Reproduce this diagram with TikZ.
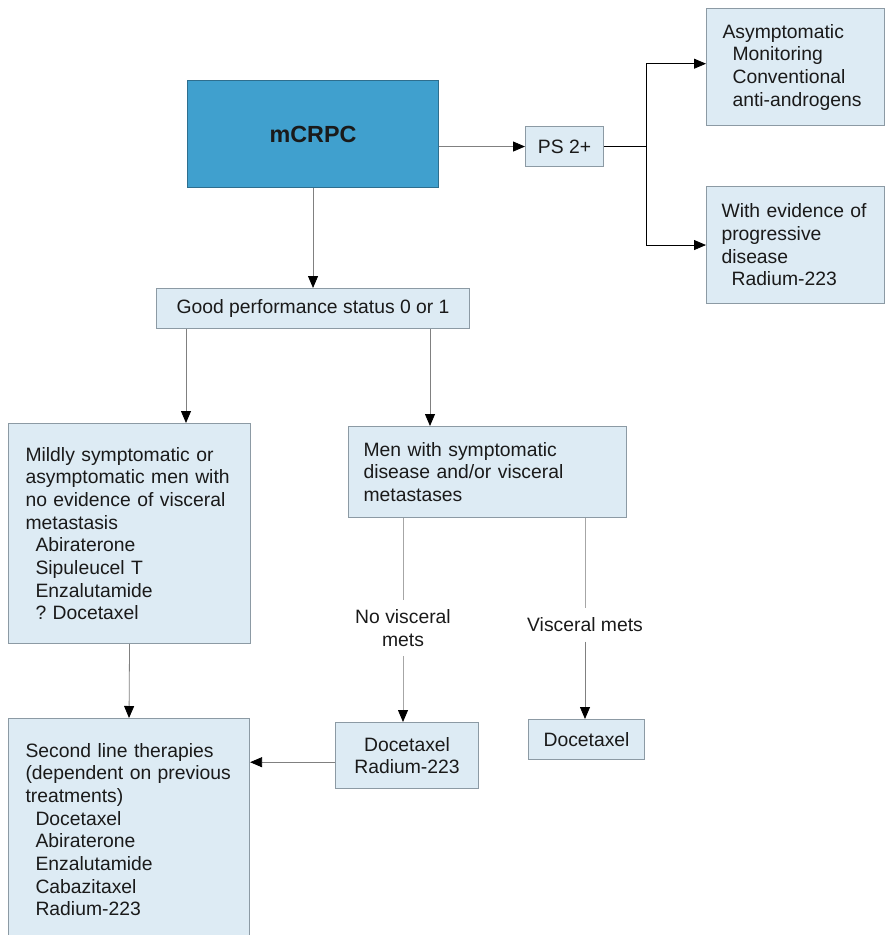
\documentclass[tikz,border=0pt]{standalone}
\usepackage{fontspec}
\setmainfont{Liberation Sans}
\usetikzlibrary{arrows.meta}
\definecolor{boxfill}{HTML}{DDEBF4}
\definecolor{boxline}{HTML}{8C9AA4}
\definecolor{topfill}{HTML}{40A0CE}
\definecolor{topline}{HTML}{2E6E8E}
\definecolor{ink}{HTML}{1A1A1A}
\tikzset{
  box/.style={draw=boxline,fill=boxfill,line width=0.8pt,anchor=north west,text=ink,
    font=\fontsize{14.5}{17}\selectfont},
  leftbox/.style={box,align=left,inner ysep=0pt},
  midbox/.style={box,align=center,inner sep=2pt},
  tag/.style={text=ink,align=center,inner sep=7pt,font=\fontsize{14.5}{17}\selectfont},
  link/.style={draw=black!50,line width=0.6pt,-{Triangle[length=9pt,width=7.5pt,color=black]}},
  plain/.style={draw=black!35,line width=0.6pt},
}
\newcommand{\ind}{\hspace*{7.5pt}}
\frenchspacing

\begin{document}
\begin{tikzpicture}[x=0.75pt,y=-0.75pt]
\useasboundingbox (0,0) rectangle (886,935);
% top row
\node[midbox,fill=topfill,draw=topline,minimum width=188.25pt,minimum height=80.25pt,
  font=\fontsize{17.5}{20}\selectfont\bfseries] (crpc) at (187,80) {mCRPC};
\node[midbox,minimum width=58.5pt,minimum height=30pt] (ps) at (525,126) {PS 2+};
\node[leftbox,inner xsep=12pt,text width=109.5pt,minimum height=87.75pt] (asym) at (706,8)
  {Asymptomatic\\\ind Monitoring\\\ind Conventional\\\ind anti-androgens};
\node[leftbox,inner xsep=11.25pt,text width=111pt,minimum height=87.75pt] (evid) at (706,186)
  {With evidence of\\progressive\\disease\\\ind Radium-223};
\node[midbox,minimum width=234.75pt,minimum height=30pt] (good) at (156,288)
  {Good performance status 0 or 1};
% middle row
\node[leftbox,inner xsep=12.75pt,text width=156pt,minimum height=165pt] (mild) at (8,423)
  {Mildly symptomatic or\\asymptomatic men with\\no evidence of visceral\\metastasis\\
   \ind Abiraterone\\\ind Sipuleucel T\\\ind Enzalutamide\\\ind ? Docetaxel};
\node[leftbox,inner xsep=11.25pt,text width=186pt,minimum height=68.25pt] (men) at (348,426)
  {Men with symptomatic\\disease and/or visceral\\metastases};
\node[tag] (novis) at (403,628) {No visceral\\mets};
\node[tag] (vis) at (585,625) {Visceral mets};
% bottom row
\node[leftbox,inner xsep=12.75pt,text width=155.25pt,minimum height=166.5pt] (second) at (8,718)
  {Second line therapies\\(dependent on previous\\treatments)\\
   \ind Docetaxel\\\ind Abiraterone\\\ind Enzalutamide\\\ind Cabazitaxel\\\ind Radium-223};
\node[midbox,minimum width=107.25pt,minimum height=49.5pt] (dr) at (335,722)
  {Docetaxel\\Radium-223};
\node[midbox,minimum width=87pt,minimum height=30pt] (doc) at (528,719) {Docetaxel};

% connectors
\draw[link] (crpc.south) -- (good.north);
\draw[link] (crpc.east |- ps.west) -- (ps.west);
\draw[black,line width=0.6pt] (ps.east) -- ++(42,0) coordinate (fork);
\draw[link,draw=black] (fork) |- ([yshift=2.5pt]asym.west);
\draw[link,draw=black] (fork) |- (evid.west);
\draw[link] ([xshift=22.5pt]good.south west) -- ([xshift=22.5pt]good.south west |- mild.north);
\draw[link] ([xshift=205.5pt]good.south west) -- ([xshift=205.5pt]good.south west |- men.north);
\draw[plain] (men.south -| novis) -- (novis.north);
\draw[link,draw=black!35] (novis.south) -- (novis.south |- dr.north);
\draw[plain] (men.south -| vis) -- (vis.north);
\draw[link] (vis.south) -- (vis.south |- doc.north);
\draw[link] (mild.south) -- (second.north);
\draw[link] ([yshift=-5pt]dr.west) -- ([yshift=-5pt]dr.west -| second.east);
\end{tikzpicture}
\end{document}
